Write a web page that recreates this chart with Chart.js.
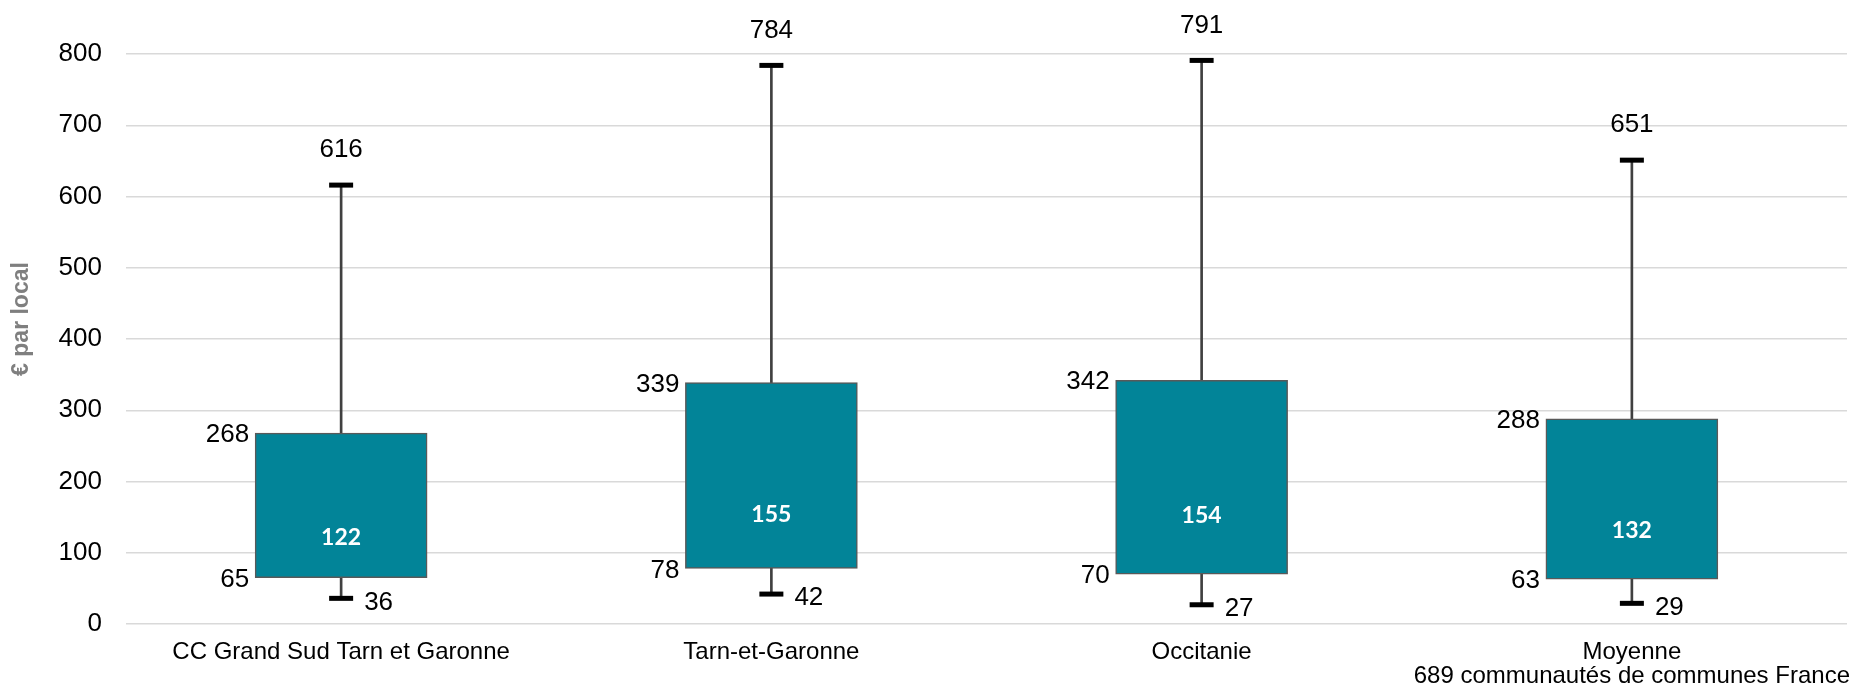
<!DOCTYPE html>
<html lang="fr">
<head>
<meta charset="utf-8">
<title>€ par local</title>
<script src="https://cdn.jsdelivr.net/npm/chart.js@4.4.1/dist/chart.umd.min.js"></script>
<style>
  html, body { margin: 0; padding: 0; background: #fff; overflow: hidden; }
  #wrap { position: relative; width: 1854px; height: 691px; }
  canvas { display: block; }
</style>
</head>
<body>
<div id="wrap"><canvas id="boxChart"></canvas></div>
<script>
// Données
const categories = [
    ['CC Grand Sud Tarn et Garonne'],
    ['Tarn-et-Garonne'],
    ['Occitanie'],
    ['Moyenne', '689 communautés de communes France']
];
const minValues = [36, 42, 27, 29];
const q1Values = [65, 78, 70, 63];
const medianValues = [122, 155, 154, 132];
const q3Values = [268, 339, 342, 288];
const maxValues = [616, 784, 791, 651];
const yMin = 0;
const yMax = 800;
const yStep = 100;
const yTitle = '€ par local';

const boxColor = '#028498';
const textFont = '"Liberation Sans", Arial, sans-serif';

// Titre de l'axe et étiquettes des valeurs (max, Q3, Q1, min, médiane)
const labelPlugin = {
    id: 'boxLabels',
    afterDatasetsDraw(chart) {
        const ctx = chart.ctx;
        const x = chart.scales.x;
        const y = chart.scales.y;
        const boxes = chart.getDatasetMeta(1).data;
        ctx.save();
        ctx.textBaseline = 'middle';

        // titre vertical, un peu au-dessus du centre comme dans Excel
        ctx.save();
        ctx.translate(22, (chart.chartArea.top + chart.chartArea.bottom) / 2 - 20);
        ctx.rotate(-Math.PI / 2);
        ctx.font = 'bold 23px ' + textFont;
        ctx.fillStyle = '#7f7f7f';
        ctx.textAlign = 'center';
        ctx.fillText(yTitle, 0, 0);
        ctx.restore();

        categories.forEach((c, i) => {
            const cx = x.getPixelForValue(i);
            const bar = boxes[i];
            const left = bar.x - bar.width / 2;

            ctx.font = '26px ' + textFont;
            ctx.fillStyle = '#000';

            ctx.textAlign = 'center';
            ctx.fillText(maxValues[i], cx, y.getPixelForValue(maxValues[i]) - 35);

            ctx.textAlign = 'right';
            ctx.fillText(q3Values[i], left - 6, y.getPixelForValue(q3Values[i]) + 2);
            ctx.fillText(q1Values[i], left - 6, y.getPixelForValue(q1Values[i]) + 2);

            ctx.textAlign = 'left';
            ctx.fillText(minValues[i], cx + 23, y.getPixelForValue(minValues[i]) + 4);

            ctx.font = 'bold 23px Lato, "Open Sans", sans-serif';
            ctx.fillStyle = '#fff';
            ctx.textAlign = 'center';
            ctx.fillText(medianValues[i], cx, y.getPixelForValue(medianValues[i]) + 1);
        });
        ctx.restore();
    }
};

function createBoxChart() {
    const ctx = document.getElementById('boxChart');
    new Chart(ctx, {
        type: 'bar',
        data: {
            labels: categories,
            datasets: [
                {
                    // moustaches
                    type: 'bar',
                    data: minValues.map((v, i) => [v, maxValues[i]]),
                    backgroundColor: '#404040',
                    barThickness: 2,
                    grouped: false,
                    order: 3
                },
                {
                    // boîtes Q1 - Q3
                    type: 'bar',
                    data: q1Values.map((v, i) => [v, q3Values[i]]),
                    backgroundColor: boxColor,
                    borderColor: '#595959',
                    borderWidth: 1.5,
                    borderSkipped: false,
                    barThickness: 172,
                    grouped: false,
                    order: 2
                },
                {
                    // traits max
                    type: 'line',
                    data: maxValues,
                    showLine: false,
                    pointStyle: 'line',
                    pointRadius: 12,
                    pointBorderWidth: 5,
                    borderColor: '#000',
                    order: 1
                },
                {
                    // traits min
                    type: 'line',
                    data: minValues,
                    showLine: false,
                    pointStyle: 'line',
                    pointRadius: 12,
                    pointBorderWidth: 5,
                    borderColor: '#000',
                    order: 1
                }
            ]
        },
        options: {
            responsive: true,
            maintainAspectRatio: false,
            animation: false,
            layout: { autoPadding: false, padding: { left: 0, top: 54, right: 7, bottom: 0 } },
            plugins: {
                legend: { display: false },
                tooltip: { enabled: false }
            },
            scales: {
                x: {
                    grid: { display: false },
                    border: { display: false },
                    ticks: {
                        color: '#000',
                        font: { family: textFont, size: 24, lineHeight: 1.0 },
                        padding: 8,
                        maxRotation: 0,
                        autoSkip: false
                    },
                    afterFit: s => {
                        s.height = 67;
                        s.paddingLeft = 0;
                        s.paddingRight = 0;
                    }
                },
                y: {
                    min: yMin,
                    max: yMax,
                    grid: { color: '#d9d9d9', lineWidth: 1.5, drawTicks: false },
                    border: { display: false },
                    ticks: {
                        stepSize: yStep,
                        color: '#000',
                        font: { family: textFont, size: 26 },
                        padding: 24
                    },
                    afterFit: s => { s.width = 126; }
                }
            }
        },
        plugins: [labelPlugin]
    });
}

window.onload = function() {
    createBoxChart();
};
</script>
</body>
</html>
